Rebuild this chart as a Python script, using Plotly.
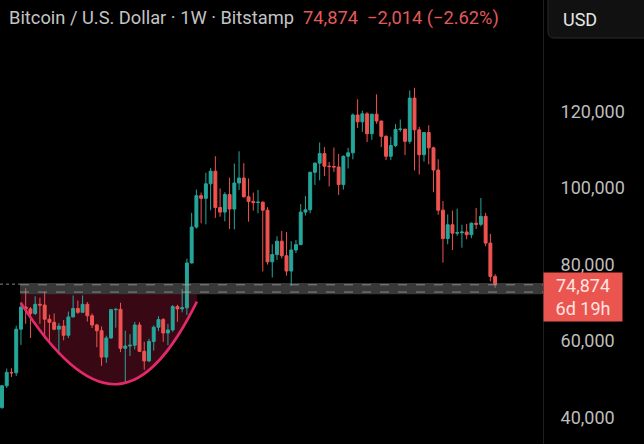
import pandas as pd
import plotly.graph_objects as go

# Weekly BTC/USD candles (Bitstamp), weeks starting Monday 2024-02-05
week_start = "2024-02-05"
open_ = [42600, 48300, 51800, 51700, 63100, 68900, 68400, 67200, 69600, 69400,
         65700, 64900, 63100, 63900, 61500, 66300, 68500, 67500, 69600, 66600,
         64200, 62700, 55800, 60800, 68200, 68300, 58100, 58700, 58900, 64200,
         57300, 54800, 59900, 63600, 65600, 62100, 62900, 69000, 68400, 68700,
         80400, 89800, 98000, 97300, 101100, 104400, 94900, 93700, 98300, 94500,
         101300, 102600, 97700, 96500, 96200, 96300, 94200, 80700, 82600, 86100,
         82300, 78300, 83800, 85200, 93700, 94300, 104100, 106500, 109000, 105700,
         105600, 105500, 100900, 108300, 109200, 119100, 117300, 119400, 114200, 119300,
         117500, 113500, 108300, 111100, 115300, 115400, 112200, 123500, 115200, 108700,
         114500, 110500, 104700, 94200, 86800, 90400, 88200, 88300, 88500, 87800,
         90800, 90500, 92600, 85600, 76888]
high = [48500, 52800, 52900, 64000, 70100, 73800, 68900, 71700, 71300, 72800,
        66900, 67200, 64700, 65500, 67700, 71900, 70600, 71900, 70200, 67200,
        64500, 63800, 61400, 68400, 68500, 70000, 62700, 61800, 65000, 64900,
        59800, 60600, 64100, 66500, 66000, 64500, 69400, 69500, 73600, 81500,
        93500, 99600, 98800, 104000, 105200, 108300, 99900, 98900, 102700, 106400,
        109600, 106500, 102500, 98800, 99500, 96500, 95000, 85300, 87400, 88800,
        88500, 86100, 86400, 95800, 97900, 104300, 106700, 111900, 110700, 106800,
        110600, 108900, 108500, 110500, 119500, 123200, 120200, 119800, 119300, 124500,
        117600, 113800, 113400, 116700, 117900, 115400, 125500, 126200, 116000, 114600,
        116400, 110800, 107500, 96600, 93100, 94100, 94600, 90400, 90600, 91000,
        94800, 97400, 93500, 88000, 77500]
low = [42300, 47700, 50600, 50900, 59000, 64500, 60800, 66800, 64500, 60700,
       59600, 62800, 56500, 60200, 60800, 66200, 67100, 67500, 65100, 63400,
       58400, 53500, 54300, 60600, 63500, 57100, 49100, 56100, 57800, 57200,
       52500, 54500, 57500, 62600, 59800, 58900, 62400, 65000, 67500, 66800,
       80300, 89400, 90800, 90500, 94200, 92200, 92500, 91300, 89300, 89200,
       99500, 97500, 91200, 94100, 93400, 78200, 80000, 76600, 81200, 81600,
       77100, 74500, 83000, 85100, 92800, 93400, 100800, 102000, 103100, 100400,
       104200, 98200, 99600, 105100, 107500, 115700, 114700, 112000, 112600, 116800,
       110700, 107300, 107300, 110700, 114700, 108600, 111600, 104600, 103500, 106900,
       106200, 98900, 93000, 80500, 85300, 83800, 87500, 84400, 86600, 86900,
       89300, 90000, 84800, 75600, 73900]
close = [48300, 51800, 51700, 63100, 68900, 68400, 67200, 69600, 69400, 65700,
         64900, 63100, 63900, 61500, 66300, 68500, 67500, 69600, 66600, 64200,
         62700, 55800, 60800, 68200, 68300, 58100, 58700, 58900, 64200, 57300,
         54800, 59900, 63600, 65600, 62100, 62900, 69000, 68400, 68700, 80400,
         89800, 98000, 97300, 101100, 104400, 94900, 93700, 98300, 94500, 101300,
         102600, 97700, 96500, 96200, 96300, 94200, 80700, 82600, 86100, 82300,
         78300, 83800, 85200, 93700, 94300, 104100, 106500, 109000, 105700, 105600,
         105500, 100900, 108300, 109200, 119100, 117300, 119400, 114200, 119300, 117500,
         113500, 108300, 111100, 115300, 115400, 112200, 123500, 115200, 108700, 114500,
         110500, 104700, 94200, 86800, 90400, 88200, 88300, 88500, 87800, 90800,
         90500, 92600, 85600, 76888, 74874]

price_ticks = [40000, 60000, 80000, 100000, 120000]
week_change = -2014
week_change_pct = -2.62
time_left = "6d 19h"

# Support zone and rounded-bottom drawing (week offsets from first candle, price)
zone_low, zone_high = 72200, 75200
zone_start_week = 3.8
cup_left = (3.95, 70000)
cup_ctrl1 = (19.7, 39500)
cup_ctrl2 = (30.5, 43700)
cup_right = (41.1, 70300)

UP = "#26a69a"
DOWN = "#ef5350"
FONT = "Roboto"

dates = pd.date_range(week_start, periods=len(close), freq="7D")
t0 = dates[0]


def wk(k):
    """Date string at a fractional week offset, in shape-path form."""
    return (t0 + pd.Timedelta(days=7 * k)).strftime("%Y-%m-%d_%H:%M:%S")


def wkd(k):
    return (t0 + pd.Timedelta(days=7 * k)).strftime("%Y-%m-%d %H:%M:%S")


x_lo = t0 - pd.Timedelta(days=2.94)
x_hi = t0 + pd.Timedelta(days=798.7)

fig = go.Figure()
fig.add_trace(go.Candlestick(
    x=dates, open=open_, high=high, low=low, close=close,
    increasing=dict(line=dict(color=UP, width=1), fillcolor=UP),
    decreasing=dict(line=dict(color=DOWN, width=1), fillcolor=DOWN),
    whiskerwidth=0, hoverinfo="skip", showlegend=False,
))

cup_curve = (f"M {wk(cup_left[0])},{cup_left[1]} "
             f"C {wk(cup_ctrl1[0])},{cup_ctrl1[1]} {wk(cup_ctrl2[0])},{cup_ctrl2[1]} "
             f"{wk(cup_right[0])},{cup_right[1]}")
cup_fill = cup_curve + (f" L {wk(cup_right[0])},{zone_low} "
                        f"L {wk(cup_left[0])},{zone_low} Z")

shapes = [
    # shaded bowl under the zone
    dict(type="path", path=cup_fill, xref="x", yref="y", layer="below",
         fillcolor="rgba(215,30,80,0.26)", line=dict(width=0)),
    # support zone
    dict(type="rect", xref="x", yref="y", x0=wkd(zone_start_week), x1=x_hi,
         y0=zone_low, y1=zone_high, layer="above",
         fillcolor="rgba(125,125,125,0.45)", line=dict(width=0)),
    dict(type="line", xref="x", yref="y", x0=wkd(zone_start_week), x1=x_hi,
         y0=zone_high - 500, y1=zone_high - 500, layer="above",
         line=dict(color="rgba(200,200,200,0.55)", width=1, dash="dash")),
    dict(type="line", xref="x", yref="y", x0=wkd(zone_start_week), x1=x_hi,
         y0=zone_low + 600, y1=zone_low + 600, layer="above",
         line=dict(color="rgba(200,200,200,0.55)", width=1, dash="dash")),
    # last price line
    dict(type="line", xref="x", yref="y", x0=x_lo, x1=wkd(zone_start_week),
         y0=close[-1], y1=close[-1], layer="above",
         line=dict(color="rgba(190,190,190,0.7)", width=1, dash="dot")),
    # rounded-bottom arc
    dict(type="path", path=cup_curve, xref="x", yref="y", layer="above",
         line=dict(color="#e4296b", width=2.6)),
    # currency button
    dict(type="path", xref="paper", yref="paper",
         path="M 1.0092,1.02 L 1.0092,0.9302 Q 1.0092,0.9144 1.0202,0.9144 "
              "L 1.2,0.9144 L 1.2,1.02 Z",
         fillcolor="#111111", line=dict(color="#2a2a2a", width=1), layer="above"),
]

price_txt = f"{close[-1]:,}"
chg_txt = f"\u2212{abs(week_change):,} (\u2212{abs(week_change_pct):.2f}%)"

annotations = [
    dict(xref="paper", yref="paper", x=0, y=1, xshift=7, yshift=-18,
         xanchor="left", yanchor="middle", showarrow=False, align="left",
         text=("Bitcoin / U.S. Dollar \u00b7 1W \u00b7 Bitstamp\u00a0\u00a0"
               f"<span style='color:#e05a5a'>{price_txt}\u00a0\u00a0{chg_txt}</span>"),
         font=dict(family=FONT, size=18.3, color="#c4c4c4")),
    dict(xref="paper", yref="paper", x=1, y=1, xshift=18, yshift=-19,
         xanchor="left", yanchor="middle", showarrow=False, text="USD",
         font=dict(family=FONT, size=18, color="#e6e6e6")),
    dict(xref="paper", yref="y", x=1, y=close[-1], xanchor="left", yanchor="top",
         yshift=12, showarrow=False, text=f"{price_txt}<br>{time_left}",
         bgcolor="#eb5550", width=74, height=44, borderpad=2, align="center",
         font=dict(family=FONT, size=18, color="#fde4e1")),
]

fig.update_layout(
    width=644, height=444,
    margin=dict(l=0, r=101, t=0, b=0),
    paper_bgcolor="#000000", plot_bgcolor="#000000",
    shapes=shapes, annotations=annotations, showlegend=False,
    boxgap=0.12,
    xaxis=dict(type="date", range=[x_lo, x_hi], showgrid=False, zeroline=False,
               showticklabels=False, ticks="", rangeslider=dict(visible=False),
               showline=False),
    yaxis=dict(side="right", range=[33085, 149146], showgrid=False, zeroline=False,
               tickvals=price_ticks, ticktext=[f"{v:,}" for v in price_ticks],
               ticks="", ticklabelstandoff=13,
               tickfont=dict(family=FONT, size=18, color="#bdbdbd"),
               showline=True, linecolor="#1f1f1f", linewidth=1),
)

fig.write_html("out.html")
